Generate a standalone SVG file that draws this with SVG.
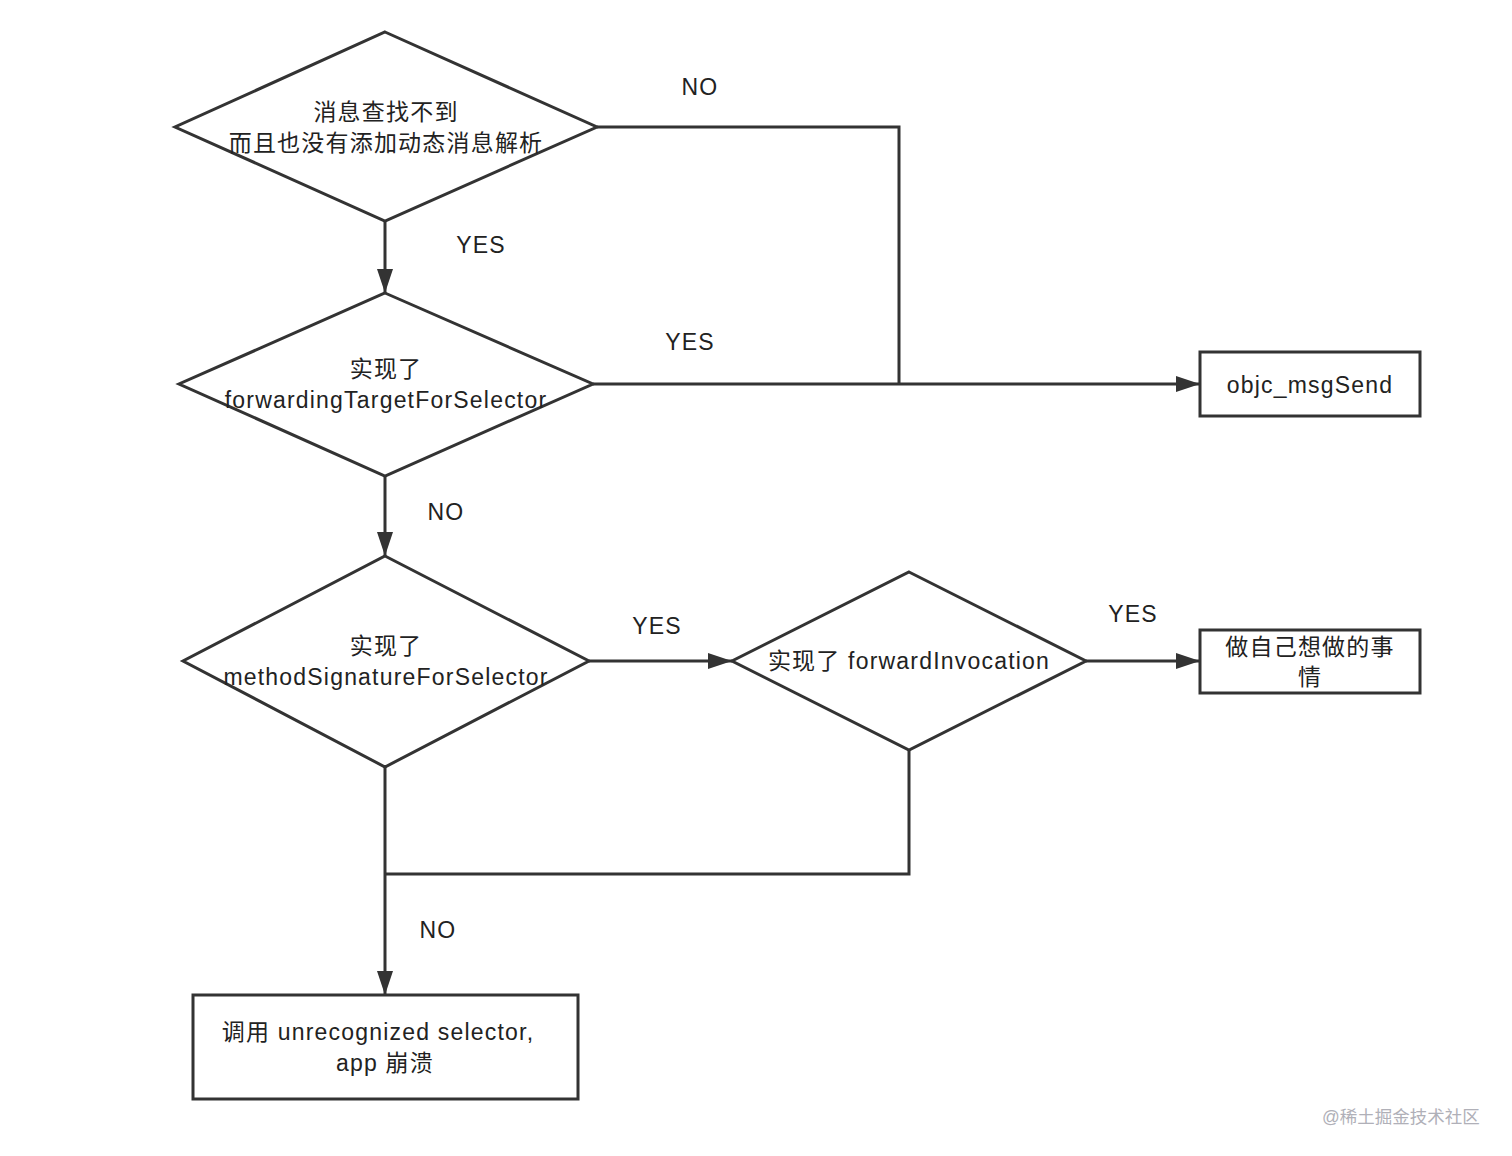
<svg xmlns="http://www.w3.org/2000/svg" width="1512" height="1156" viewBox="0 0 1512 1156">
<defs>
<style>
.shape{fill:#fff;stroke:#333;stroke-width:3}
.line{fill:none;stroke:#333;stroke-width:3}
.t{font-family:"Liberation Sans","Noto Sans CJK SC",sans-serif;font-size:23px;letter-spacing:1.2px;fill:#222;text-anchor:middle}
.wm{font-family:"Liberation Sans","Noto Sans CJK SC",sans-serif;font-size:17.5px;fill:#b0b0b8}
</style>
<marker id="arrL" viewBox="0 0 24 16" refX="24" refY="8" markerWidth="24" markerHeight="16" orient="auto" markerUnits="userSpaceOnUse">
<path d="M0,0 L24,8 L0,16 Z" fill="#333"/>
</marker>
</defs>
<rect width="1512" height="1156" fill="#fff"/>
<g id="connectors">
<polyline class="line" points="597,127 899,127 899,384"/>
<line class="line" x1="593" y1="384" x2="1200" y2="384" marker-end="url(#arrL)"/>
<line class="line" x1="385" y1="221" x2="385" y2="293" marker-end="url(#arrL)"/>
<line class="line" x1="385" y1="476" x2="385" y2="556" marker-end="url(#arrL)"/>
<line class="line" x1="589" y1="661" x2="732" y2="661" marker-end="url(#arrL)"/>
<line class="line" x1="1086" y1="661" x2="1200" y2="661" marker-end="url(#arrL)"/>
<polyline class="line" points="909,750 909,874 385,874"/>
<line class="line" x1="385" y1="767" x2="385" y2="995" marker-end="url(#arrL)"/>
<text class="t" x="700" y="95">NO</text>
<text class="t" x="481" y="253">YES</text>
<text class="t" x="690" y="350">YES</text>
<text class="t" x="446" y="520">NO</text>
<text class="t" x="657" y="634">YES</text>
<text class="t" x="1133" y="622">YES</text>
<text class="t" x="438" y="938">NO</text>
</g>
<g id="d1">
<polygon class="shape" points="385,32 597,127 385,221 175,127"/>
<text class="t" x="386" y="120">消息查找不到</text>
<text class="t" x="386" y="151">而且也没有添加动态消息解析</text>
</g>
<g id="d2">
<polygon class="shape" points="385,293 593,384 385,476 179,384"/>
<text class="t" x="386" y="377">实现了</text>
<text class="t" x="386" y="408">forwardingTargetForSelector</text>
</g>
<g id="d3">
<polygon class="shape" points="385,556 589,661 385,767 183,661"/>
<text class="t" x="386" y="654">实现了</text>
<text class="t" x="386" y="685">methodSignatureForSelector</text>
</g>
<g id="d4">
<polygon class="shape" points="909,572 1086,661 909,750 732,661"/>
<text class="t" x="909" y="669">实现了 forwardInvocation</text>
</g>
<g id="objc">
<rect class="shape" x="1200" y="352" width="220" height="64"/>
<text class="t" x="1310" y="393">objc_msgSend</text>
</g>
<g id="doself">
<rect class="shape" x="1200" y="630" width="220" height="63"/>
<text class="t" x="1310" y="655">做自己想做的事</text>
<text class="t" x="1310" y="685">情</text>
</g>
<g id="crash">
<rect class="shape" x="193" y="995" width="385" height="104"/>
<text class="t" x="378" y="1040">调用 unrecognized selector,</text>
<text class="t" x="385" y="1071">app 崩溃</text>
</g>
<text class="wm" x="1322" y="1123">@稀土掘金技术社区</text>
</svg>
